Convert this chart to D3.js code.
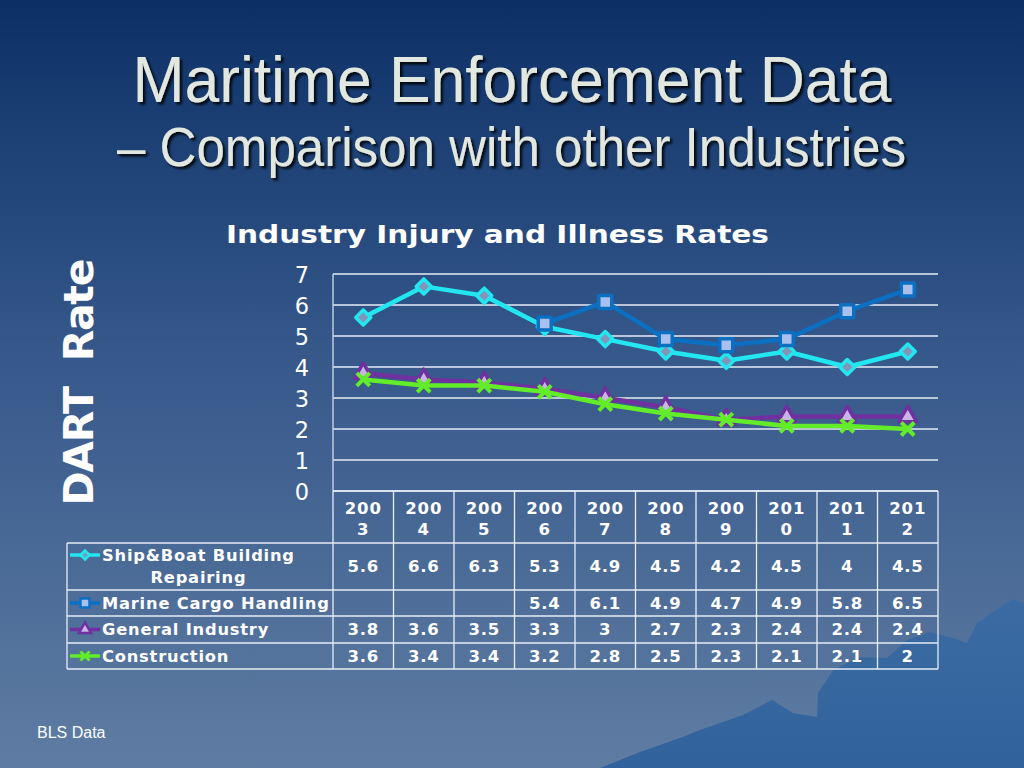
<!DOCTYPE html>
<html><head><meta charset="utf-8">
<script src="https://cdn.jsdelivr.net/npm/d3@7"></script>
<style>html,body{margin:0;padding:0;background:#0d3167;}svg{display:block;}</style>
</head><body>
<svg id="c" width="1024" height="768"></svg>
<script>
const years = ["2003","2004","2005","2006","2007","2008","2009","2010","2011","2012"];
const shipBoat = [5.6, 6.6, 6.3, 5.3, 4.9, 4.5, 4.2, 4.5, 4, 4.5];
const marineCargo = [null, null, null, 5.4, 6.1, 4.9, 4.7, 4.9, 5.8, 6.5];
const generalIndustry = [3.8, 3.6, 3.5, 3.3, 3, 2.7, 2.3, 2.4, 2.4, 2.4];
const construction = [3.6, 3.4, 3.4, 3.2, 2.8, 2.5, 2.3, 2.1, 2.1, 2];
const seriesNames = ["Ship&Boat Building Repairing", "Marine Cargo Handling", "General Industry", "Construction"];
const yTicks = [0,1,2,3,4,5,6,7];

const series = [
  {name: seriesNames[0], lines:["Ship&Boat Building","Repairing"], values: shipBoat, color:"#22e6f0", fill:"#8494b8", shape:"diamond"},
  {name: seriesNames[1], lines:["Marine Cargo Handling"], values: marineCargo, color:"#0b6fc2", fill:"#a9c0ee", shape:"square"},
  {name: seriesNames[2], lines:["General Industry"], values: generalIndustry, color:"#7030a0", fill:"#c9b6e6", shape:"triangle"},
  {name: seriesNames[3], lines:["Construction"], values: construction, color:"#62ec2a", fill:"#62ec2a", shape:"x"}
];

const svg = d3.select("#c");
const defs = svg.append("defs");
const bg = defs.append("linearGradient").attr("id","bg").attr("x1",0).attr("y1",0).attr("x2",0).attr("y2",1);
bg.append("stop").attr("offset","0").attr("stop-color","#0c3066");
bg.append("stop").attr("offset","0.45").attr("stop-color","#35578a");
bg.append("stop").attr("offset","1").attr("stop-color","#5f7da3");
const mg = defs.append("linearGradient").attr("id","mt").attr("x1",0).attr("y1",0).attr("x2",0).attr("y2",1);
mg.append("stop").attr("offset","0").attr("stop-color","#3a6ba4");
mg.append("stop").attr("offset","1").attr("stop-color","#2c5f9a");
const sh = defs.append("filter").attr("id","shadow").attr("x","-5%").attr("y","-20%").attr("width","110%").attr("height","150%");
sh.append("feDropShadow").attr("dx",2.5).attr("dy",2.5).attr("stdDeviation",1).attr("flood-color","#000").attr("flood-opacity",0.85);

svg.append("rect").attr("width",1024).attr("height",768).attr("fill","url(#bg)");
// decorative mountains
svg.append("path").attr("fill","url(#mt)").attr("opacity",0.9)
  .attr("d","M600,768 L640,752 L680,738 L700,730 L743,715 L772,700 L793,713 L817,717 L818,693 L833,670 L860,657 L887,658 L907,640 L930,632 L953,638 L967,643 L977,623 L1000,607 L1013,599 L1024,603 L1024,768 Z");

// Titles
const titleColor = "#e2e8e0";
const narrow = "'Liberation Sans Narrow','Arial Narrow','Liberation Sans',Arial,sans-serif";
svg.append("text").attr("x",512).attr("y",102).attr("text-anchor","middle")
  .attr("font-family",narrow).attr("font-size",64).attr("fill",titleColor).attr("filter","url(#shadow)")
  .attr("textLength",759).attr("lengthAdjust","spacingAndGlyphs")
  .text("Maritime Enforcement Data");
svg.append("text").attr("x",511.5).attr("y",166).attr("text-anchor","middle")
  .attr("font-family",narrow).attr("font-size",55).attr("fill",titleColor).attr("filter","url(#shadow)")
  .attr("textLength",789).attr("lengthAdjust","spacingAndGlyphs")
  .text("– Comparison with other Industries");

const boldFont = "Verdana,'DejaVu Sans',sans-serif";
svg.append("text").attr("x",497.5).attr("y",243).attr("text-anchor","middle")
  .attr("font-family",boldFont).attr("font-weight","bold").attr("font-size",24.5).attr("fill","#ffffff")
  .attr("textLength",543).attr("lengthAdjust","spacingAndGlyphs")
  .text("Industry Injury and Illness Rates");

svg.append("text").attr("transform","translate(93,382) rotate(-90)").attr("text-anchor","middle")
  .attr("font-family",boldFont).attr("font-weight","bold").attr("font-size",41).attr("fill","#ffffff")
  .attr("textLength",247).attr("lengthAdjust","spacing")
  .style("white-space","pre")
  .text("DART  Rate");

svg.append("text").attr("x",37).attr("y",738).attr("font-family","'Liberation Sans',Arial,sans-serif")
  .attr("font-size",16).attr("fill","#ffffff").text("BLS Data");

// Scales
const x = d3.scaleBand().domain(years).range([333, 938]);
const y = d3.scaleLinear().domain([0,7]).range([491, 274]);

// gridlines
svg.append("g").selectAll("line").data(yTicks).join("line")
  .attr("x1",333).attr("x2",938).attr("y1",d=>y(d)).attr("y2",d=>y(d))
  .attr("stroke","#e6edf5").attr("stroke-width",1.4);
svg.append("line").attr("x1",333).attr("x2",333).attr("y1",y(7)).attr("y2",y(0))
  .attr("stroke","#c9d3e0").attr("stroke-width",1.4);

// y axis
const ya = svg.append("g").attr("transform","translate(333,0)")
  .call(d3.axisLeft(y).tickValues(yTicks).tickSize(0).tickPadding(24).tickFormat(d3.format("d")));
ya.select(".domain").remove();
ya.selectAll("text").attr("font-family",boldFont).attr("font-size",22.5).attr("fill","#ffffff").attr("dy","0.36em");

function markerPath(shape, s) {
  const h = s/2;
  if (shape==="diamond") return `M0,${-h}L${h},0L0,${h}L${-h},0Z`;
  if (shape==="square") return d3.symbol(d3.symbolSquare, s*s)();
  if (shape==="triangle") return d3.symbol(d3.symbolTriangle, s*s*0.8)();
  return `M${-h},${-h}L${h},${h}M${-h},${h}L${h},${-h}`;
}

const cx = d => x(d) + x.bandwidth()/2;
series.forEach(s => {
  const pts = years.map((yr,i)=>({yr, v:s.values[i]})).filter(p=>p.v!==null);
  const line = d3.line().x(p=>cx(p.yr)).y(p=>y(p.v));
  const g = svg.append("g");
  g.append("path").datum(pts).attr("d",line).attr("fill","none")
    .attr("stroke",s.color).attr("stroke-width",4.5).attr("stroke-linejoin","round");
  const size = s.shape==="diamond" ? 15 : 13;
  g.selectAll("path.m").data(pts).join("path").attr("class","m")
    .attr("transform",p=>`translate(${cx(p.yr)},${y(p.v)})`)
    .attr("d",markerPath(s.shape, size))
    .attr("fill", s.shape==="x" ? "none" : s.fill)
    .attr("stroke", s.color).attr("stroke-width", s.shape==="x"?4:3.5).attr("stroke-linejoin","round");
});

// Data table
const rowTops = [491, 543, 590, 616, 643, 669];
const tbl = svg.append("g");
const borderColor = "#e6edf5";
rowTops.forEach((t,i) => {
  tbl.append("line").attr("x1", i<=0 ? 333 : 67).attr("x2",938).attr("y1",t).attr("y2",t)
    .attr("stroke",borderColor).attr("stroke-width",1.3);
});
const colEdges = years.map(yr=>x(yr)).concat([x.range()[1]]);
colEdges.forEach(e => {
  tbl.append("line").attr("x1",e).attr("x2",e).attr("y1",491).attr("y2",669)
    .attr("stroke",borderColor).attr("stroke-width",1.3);
});
tbl.append("line").attr("x1",67).attr("x2",67).attr("y1",543).attr("y2",669)
  .attr("stroke",borderColor).attr("stroke-width",1.3);

const tf = (sel, size) => sel.attr("font-family",boldFont).attr("font-weight","bold")
  .attr("font-size",size).attr("fill","#ffffff").attr("letter-spacing",0.8);
years.forEach(yr => {
  tf(tbl.append("text").attr("x",cx(yr)).attr("y",514).attr("text-anchor","middle"),16.5).text(yr.slice(0,3));
  tf(tbl.append("text").attr("x",cx(yr)).attr("y",535).attr("text-anchor","middle"),16.5).text(yr.slice(3));
});
series.forEach((s, i) => {
  const top = rowTops[i+1], bot = rowTops[i+2];
  const mid = (top+bot)/2;
  const ly = s.lines.length>1 ? top+12 : mid;
  tbl.append("line").attr("x1",70).attr("x2",100).attr("y1",ly).attr("y2",ly)
    .attr("stroke",s.color).attr("stroke-width",3.5);
  tbl.append("path").attr("transform",`translate(85,${ly})`).attr("d",markerPath(s.shape, 9))
    .attr("fill", s.shape==="x" ? "none" : s.fill).attr("stroke",s.color).attr("stroke-width",s.shape==="x"?3:2.5);
  if (s.lines.length>1) {
    const t1 = tf(tbl.append("text").attr("x",102).attr("y",ly).attr("dy","0.36em"),16.3).text(s.lines[0]);
    const w = t1.node().getComputedTextLength();
    tf(tbl.append("text").attr("x",102+w/2).attr("y",ly+22).attr("dy","0.36em").attr("text-anchor","middle"),16.3).text(s.lines[1]);
  } else {
    tf(tbl.append("text").attr("x",102).attr("y",mid).attr("dy","0.36em"),16.3).text(s.lines[0]);
  }
  years.forEach((yr,j) => {
    const v = s.values[j];
    if (v===null) return;
    tf(tbl.append("text").attr("x",cx(yr)).attr("y",mid).attr("dy","0.36em").attr("text-anchor","middle"),16.5).text(String(v));
  });
});
</script>
</body></html>
